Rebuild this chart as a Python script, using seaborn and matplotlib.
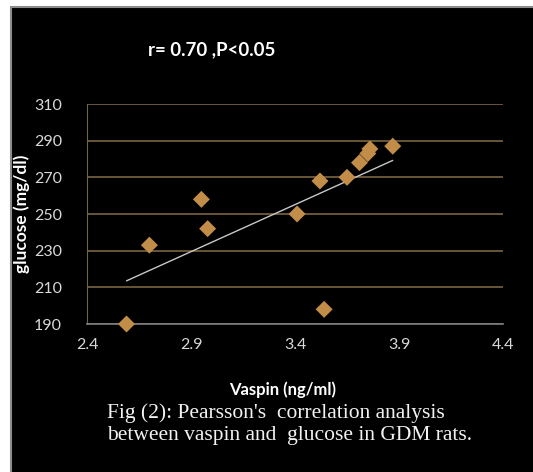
import numpy as np
import pandas as pd
import matplotlib
matplotlib.use("Agg")
import matplotlib.pyplot as plt
from matplotlib.patches import Rectangle
import seaborn as sns

# values
vaspin = [2.59, 2.70, 2.95, 2.98, 3.41, 3.52, 3.54, 3.65, 3.71, 3.75, 3.76, 3.87]
glucose = [190, 233, 258, 242, 250, 268, 198, 270, 278, 283, 285.5, 287]
x_ticks = [2.4, 2.9, 3.4, 3.9, 4.4]
y_ticks = [190, 210, 230, 250, 270, 290, 310]

df = pd.DataFrame({"Vaspin": vaspin, "glucose": glucose})

sns.set_style("dark")
plt.rcParams['font.family'] = ['Lato', 'DejaVu Sans']

fig = plt.figure(figsize=(5.33, 4.72), dpi=100)
fig.patch.set_facecolor("white")
# black panel with a grey frame
fig.patches.append(Rectangle((10.5 / 533, -0.01), 1.02, (472 - 7) / 472 + 0.01,
                             transform=fig.transFigure, facecolor="black",
                             edgecolor="#8c8c8c", linewidth=1.5, zorder=-10))

ax = fig.add_axes([87 / 533, 1 - 324 / 472, 416 / 533, 220 / 472])
ax.set_facecolor("black")

sns.regplot(data=df, x="Vaspin", y="glucose", ax=ax, ci=None, scatter=False,
            line_kws={"color": "#c8c8c8", "lw": 1.0})
sns.scatterplot(data=df, x="Vaspin", y="glucose", ax=ax, marker="D", s=75,
                color="#c28d48", edgecolor="none", zorder=3, clip_on=False)

ax.set_xlim(2.4, 4.4)
ax.set_ylim(190, 310)
ax.set_xticks(x_ticks)
ax.set_xticklabels([f"{v:.1f}" for v in x_ticks])
ax.set_yticks(y_ticks)
ax.set_yticklabels([str(v) for v in y_ticks])
ax.tick_params(length=0, colors="#d9d9d9", labelsize=11.5)
ax.tick_params(axis="x", pad=10)
ax.tick_params(axis="y", pad=18)

ax.grid(axis="y", color="#7a6440", lw=1.2)
ax.grid(axis="x", visible=False)
for s in ["top", "right"]:
    ax.spines[s].set_visible(False)
ax.spines["left"].set_color("#6e6250")
ax.spines["bottom"].set_color("#808080")
ax.spines["bottom"].set_linewidth(1.2)

ax.set_xlabel("Vaspin (ng/ml)", color="white", fontweight="bold", fontsize=12)
ax.xaxis.set_label_coords((283 - 87) / 416, -(390 - 324) / 220)
ax.xaxis.label.set_va("center")
ax.set_ylabel("glucose (mg/dl)", color="white", fontweight="bold", fontsize=12.5)
ax.yaxis.set_label_coords(-57 / 416, 0.5)

fig.text(148 / 533, 1 - 50 / 472, "r= 0.70 ,P<0.05", color="white",
         fontweight="bold", fontsize=13.5, va="center", ha="left")
fig.text(107 / 533, 1 - 424 / 472,
         "Fig (2): Pearsson's  correlation analysis\nbetween vaspin and  glucose in GDM rats.",
         color="#f2f2f2", family=["Liberation Serif"], fontsize=15.5, va="center",
         ha="left", linespacing=1.2)

fig.savefig("out.png", dpi=100, facecolor=fig.get_facecolor())
